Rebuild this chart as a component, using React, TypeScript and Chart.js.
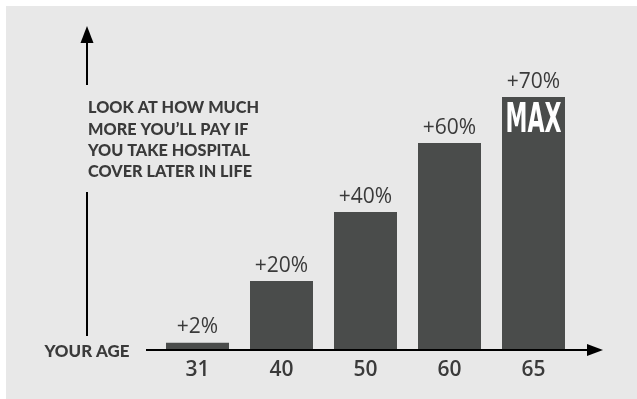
import React, { useEffect, useRef } from "react";
import { Chart, registerables } from "chart.js";

Chart.register(...registerables);

// ---- data ----
const ages = ["31", "40", "50", "60", "65"];
const barHeights = [2.1, 20, 40, 60, 73.3];
const pctLabels = ["+2%", "+20%", "+40%", "+60%", "+70%"];
const noteLines = [
  "LOOK AT HOW MUCH",
  "MORE YOU\u2019LL PAY IF",
  "YOU TAKE HOSPITAL",
  "COVER LATER IN LIFE",
];
const axisTitle = "YOUR AGE";
const maxLabel = "MAX";
const maxIndex = 4;

const BAR = "#4a4c4b";
const BG = "#e8e8e8";
const TEXT = "#3a3a3a";

const decorPlugin = {
  id: "decor",
  beforeDraw(chart: any) {
    const { ctx, width, height } = chart;
    ctx.save();
    ctx.fillStyle = "#ffffff";
    ctx.fillRect(0, 0, width, height);
    ctx.fillStyle = BG;
    ctx.fillRect(6, 6, width - 6, height - 6);
    ctx.restore();
  },
  afterDatasetsDraw(chart: any) {
    const { ctx, chartArea } = chart;
    const meta = chart.getDatasetMeta(0);
    const xs = chart.scales.x;
    const base = chartArea.bottom;
    ctx.save();

    // x axis with arrow
    ctx.strokeStyle = "#000";
    ctx.fillStyle = "#000";
    ctx.lineWidth = 2;
    ctx.beginPath();
    ctx.moveTo(146, base);
    ctx.lineTo(590, base);
    ctx.stroke();
    ctx.beginPath();
    ctx.moveTo(603, base);
    ctx.lineTo(587, base - 6);
    ctx.lineTo(587, base + 6);
    ctx.closePath();
    ctx.fill();

    // y axis with arrow (broken around the note)
    const ax = 87;
    ctx.beginPath();
    ctx.moveTo(ax, 40);
    ctx.lineTo(ax, 85);
    ctx.moveTo(ax, 192);
    ctx.lineTo(ax, 336);
    ctx.stroke();
    ctx.beginPath();
    ctx.moveTo(ax, 26);
    ctx.lineTo(ax - 6.5, 43);
    ctx.lineTo(ax + 6.5, 43);
    ctx.closePath();
    ctx.fill();

    // value labels above bars
    ctx.fillStyle = TEXT;
    ctx.textAlign = "center";
    ctx.textBaseline = "alphabetic";
    ctx.font = "400 21px 'Open Sans'";
    meta.data.forEach((el: any, i: number) => {
      ctx.fillText(pctLabels[i], el.x, el.y - 9.5);
    });

    // category labels
    ctx.font = "600 21px 'Open Sans'";
    ages.forEach((a, i) => {
      ctx.fillText(a, xs.getPixelForValue(i), 375.5);
    });

    // MAX label inside last bar
    const mel = meta.data[maxIndex];
    ctx.font = "bold 40px 'DejaVu Sans'";
    const mw = ctx.measureText(maxLabel).width;
    ctx.save();
    ctx.translate(mel.x, mel.y + 35);
    ctx.scale(56 / mw, 1);
    ctx.fillStyle = "#ffffff";
    ctx.textAlign = "center";
    ctx.fillText(maxLabel, 0, 0);
    ctx.restore();

    // note text
    ctx.fillStyle = TEXT;
    ctx.textAlign = "left";
    ctx.font = "900 17.5px Lato";
    const w1 = ctx.measureText(noteLines[0]).width;
    const sx = 171 / w1;
    const baselines = [113.3, 134.5, 155.5, 176.7];
    noteLines.forEach((line, i) => {
      ctx.save();
      ctx.translate(88, baselines[i]);
      ctx.scale(sx, 1);
      ctx.fillText(line, 0, 0);
      ctx.restore();
    });

    // axis title
    ctx.font = "900 16.5px Lato";
    const tw = ctx.measureText(axisTitle).width;
    ctx.save();
    ctx.translate(44.5, 356.8);
    ctx.scale(85 / tw, 1);
    ctx.fillText(axisTitle, 0, 0);
    ctx.restore();

    ctx.restore();
  },
};

export default function App() {
  const ref = useRef<HTMLCanvasElement | null>(null);
  useEffect(() => {
    document.body.style.margin = "0";
    const canvas = ref.current!;
    const chart = new Chart(canvas, {
      type: "bar",
      data: {
        labels: ages,
        datasets: [
          {
            data: barHeights,
            backgroundColor: BAR,
            borderWidth: 0,
            barPercentage: 0.75,
            categoryPercentage: 1,
          },
        ],
      },
      options: {
        responsive: false,
        animation: false,
        devicePixelRatio: 1,
        layout: { padding: { left: 155.5, right: 61.5, top: 74, bottom: 49 } },
        plugins: { legend: { display: false }, tooltip: { enabled: false } },
        scales: {
          x: { display: false, offset: true },
          y: { display: false, min: 0, max: 80 },
        },
      },
      plugins: [decorPlugin],
    });
    return () => chart.destroy();
  }, []);
  return (
    <div style={{ position: "fixed", left: 0, top: 0, width: 637, height: 399 }}>
      <canvas ref={ref} width={637} height={399} style={{ width: 637, height: 399 }} />
    </div>
  );
}
